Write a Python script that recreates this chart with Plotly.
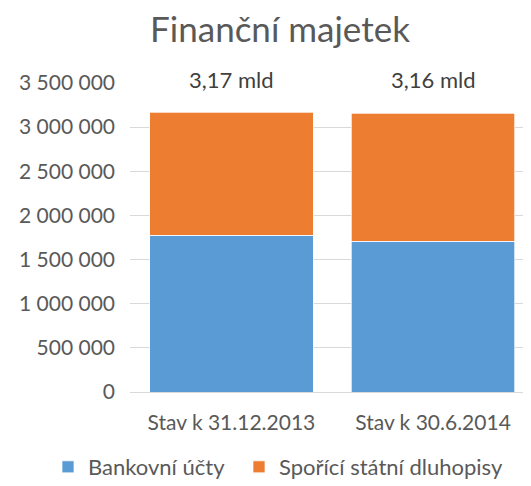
import plotly.graph_objects as go

categories = ["Stav k 31.12.2013", "Stav k 30.6.2014"]
bankovni_ucty = [1775000, 1705000]
sporici_dluhopisy = [1395000, 1455000]
totals_labels = ["3,17 mld", "3,16 mld"]
tick_values = [0, 500000, 1000000, 1500000, 2000000, 2500000, 3000000, 3500000]
tick_labels = ["0", "500 000", "1 000 000", "1 500 000", "2 000 000", "2 500 000", "3 000 000", "3 500 000"]

FONT = "Lato, Open Sans, sans-serif"
W, H = 523, 478

fig = go.Figure()
fig.add_trace(go.Bar(x=categories, y=bankovni_ucty, name="Bankovní účty", legend="legend",
                     marker=dict(color="#5B9BD5", line=dict(color="#FFFFFF", width=0.7))))
fig.add_trace(go.Bar(x=categories, y=sporici_dluhopisy, name="Spořící státní dluhopisy", legend="legend2",
                     marker=dict(color="#ED7D31", line=dict(color="#FFFFFF", width=0.7))))

for c, t in zip(categories, totals_labels):
    fig.add_annotation(x=c, y=3500000, text=t, showarrow=False, yanchor="middle", yshift=4,
                       font=dict(family=FONT, size=22, color="#404040"))

leg_common = dict(orientation="h", xref="container", yref="container",
                  xanchor="left", y=1 - 459 / H, yanchor="middle",
                  font=dict(family=FONT, size=22, color="#595959"), itemwidth=30,
                  bgcolor="rgba(0,0,0,0)")

fig.update_layout(
    width=W, height=H,
    barmode="stack", bargap=0.19,
    paper_bgcolor="white", plot_bgcolor="white",
    margin=dict(l=122, r=0, t=75, b=94, autoexpand=False),
    title=dict(text="Finanční majetek", x=272 / W, xanchor="center", xref="container",
               y=1 - 22 / H, yanchor="middle", yref="container",
               font=dict(family=FONT, size=35, color="#595959")),
    font=dict(family=FONT, size=21, color="#595959"),
    showlegend=True,
    legend=dict(x=40 / W, **leg_common),
    legend2=dict(x=231 / W, **leg_common),
    yaxis=dict(range=[0, 3500000], tickvals=tick_values, ticktext=tick_labels,
               showgrid=True, gridcolor="#D9D9D9", gridwidth=1, zeroline=False,
               showline=False, ticks="", ticklen=0, automargin=False, ticklabelstandoff=14,
               tickfont=dict(family=FONT, size=21, color="#595959")),
    xaxis=dict(showline=True, linecolor="#D9D9D9", ticks="", automargin=False,
               range=[-0.503, 1.486], ticklabelstandoff=12,
               tickfont=dict(family=FONT, size=21, color="#595959")),
)

fig.write_html("out.html")
